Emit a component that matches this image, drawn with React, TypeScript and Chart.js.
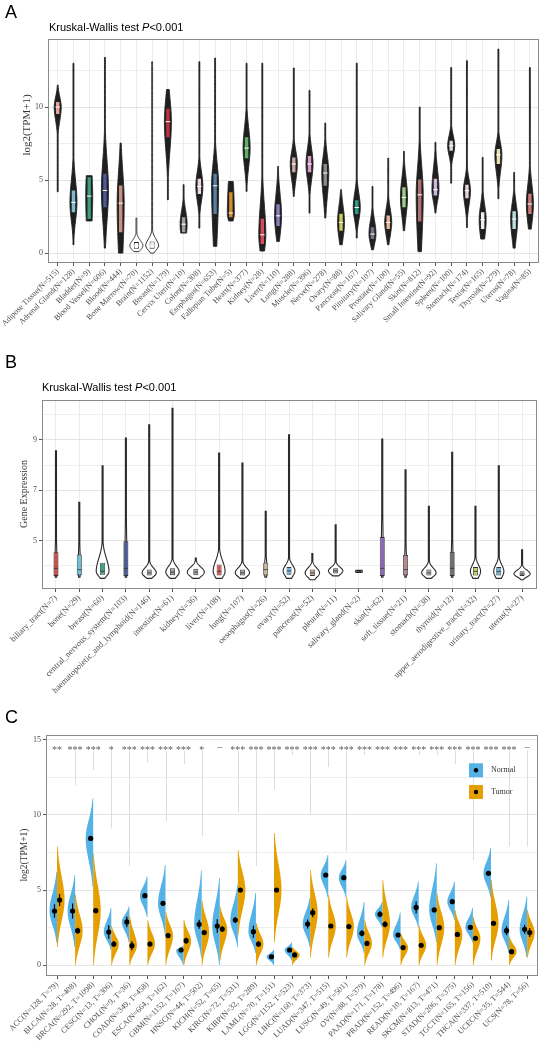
import React, { useEffect, useRef } from 'react';
import { Chart, registerables } from 'chart.js';
Chart.register(...registerables);
Chart.defaults.font.family = '"Liberation Serif", serif';

// ---------------- Panel A (GTEx tissues) ----------------
const aTissues = ['Adipose Tissue(N=515)', 'Adrenal Gland(N=128)', 'Bladder(N=9)', 'Blood Vessel(N=606)', 'Blood(N=444)', 'Bone Marrow(N=70)', 'Brain(N=1152)', 'Breast(N=179)', 'Cervix Uteri(N=10)', 'Colon(N=308)', 'Esophagus(N=653)', 'Fallopian Tube(N=5)', 'Heart(N=377)', 'Kidney(N=28)', 'Liver(N=110)', 'Lung(N=288)', 'Muscle(N=396)', 'Nerve(N=278)', 'Ovary(N=88)', 'Pancreas(N=167)', 'Pituitary(N=107)', 'Prostate(N=100)', 'Salivary Gland(N=55)', 'Skin(N=812)', 'Small Intestine(N=92)', 'Spleen(N=100)', 'Stomach(N=174)', 'Testis(N=165)', 'Thyroid(N=279)', 'Uterus(N=78)', 'Vagina(N=85)'];
const aMin = [4.2, 0.57, 2.2, 0.34, 0.0, 0.1, 0.0, 3.65, 1.37, 1.71, 0.46, 2.2, 4.22, 0.14, 0.8, 3.88, 2.74, 2.4, 0.57, 1.03, 0.23, 0.57, 1.53, 0.1, 2.74, 4.79, 1.75, 0.96, 3.72, 0.34, 1.64];
const aQ1 = [9.47, 2.74, 2.28, 3.08, 1.37, 0.3, 0.3, 7.88, 1.37, 3.99, 2.62, 2.4, 6.44, 0.57, 1.8, 5.48, 5.48, 4.56, 1.48, 2.62, 0.91, 1.59, 3.08, 2.1, 3.88, 6.96, 3.7, 1.59, 6.05, 1.59, 2.62];
const aMed = [10.0, 3.47, 3.9, 4.29, 3.42, 0.5, 0.5, 9.0, 1.98, 4.56, 4.61, 2.74, 7.19, 1.25, 2.55, 6.1, 6.1, 5.48, 2.1, 3.12, 1.3, 2.1, 3.81, 3.99, 4.34, 7.35, 4.27, 2.28, 6.73, 2.33, 3.36];
const aQ3 = [10.4, 4.34, 5.25, 5.48, 4.68, 0.75, 0.8, 9.93, 2.5, 5.14, 5.48, 4.22, 7.99, 2.4, 3.4, 6.6, 6.7, 6.16, 2.74, 3.68, 1.83, 2.62, 4.56, 5.09, 5.14, 7.75, 4.73, 2.85, 7.19, 2.92, 4.11];
const aMax = [11.5, 13.0, 5.3, 13.4, 7.53, 2.4, 13.1, 11.2, 4.68, 13.1, 13.35, 4.9, 13.0, 13.0, 5.93, 12.67, 11.14, 8.9, 4.34, 13.0, 4.56, 6.5, 6.96, 10.0, 7.58, 12.7, 13.17, 6.55, 13.97, 5.52, 12.7];
const aColors = ['#E8A09A', '#7FBCD2', '#3C9D7C', '#4A5A9A', '#C8917F', '#FFFFFF', '#EDEDED', '#C0303A', '#A0A0A0', '#EAD9D9', '#5A7FA5', '#D68E2A', '#5DAE6A', '#D34B5C', '#8C7DC0', '#C9A7A3', '#D79AC9', '#8A8A8A', '#C8CF5A', '#2A9D8F', '#6F7587', '#E8B898', '#9BCB8A', '#B07070', '#C9B8D9', '#D8D8D8', '#E5D5D5', '#EEEEEE', '#E8E0B0', '#BCE0E0', '#C87A7A'];
const aOpenViolin = [5, 6];

// ---------------- Panel B (cell lines) ----------------
const bTissues = ['biliary_tract(N=7)', 'bone(N=29)', 'breast(N=60)', 'central_nervous_system(N=103)', 'haematopoietic_and_lymphoid(N=146)', 'intestine(N=61)', 'kidney(N=36)', 'liver(N=108)', 'lung(N=107)', 'oesophagus(N=26)', 'ovary(N=52)', 'pancreas(N=52)', 'pleura(N=11)', 'salivary_gland(N=2)', 'skin(N=62)', 'soft_tissue(N=21)', 'stomach(N=38)', 'thyroid(N=12)', 'upper_aerodigestive_tract(N=32)', 'urinary_tract(N=27)', 'uterus(N=27)'];
const bMin = [3.55, 3.55, 3.5, 3.55, 3.5, 3.5, 3.5, 3.5, 3.5, 3.55, 3.5, 3.45, 3.6, 3.74, 3.55, 3.55, 3.5, 3.55, 3.5, 3.5, 3.45];
const bQ1 = [3.6, 3.62, 3.65, 3.6, 3.62, 3.63, 3.63, 3.62, 3.62, 3.62, 3.65, 3.6, 3.7, 3.76, 3.6, 3.62, 3.62, 3.6, 3.62, 3.62, 3.6];
const bMed = [3.9, 3.85, 3.78, 3.9, 3.72, 3.75, 3.75, 3.78, 3.72, 3.85, 3.8, 3.72, 3.8, 3.78, 3.9, 3.85, 3.72, 3.9, 3.78, 3.78, 3.68];
const bQ3 = [4.54, 4.45, 4.12, 4.97, 3.85, 3.9, 3.88, 4.05, 3.85, 4.12, 3.95, 3.85, 3.9, 3.8, 5.14, 4.43, 3.85, 4.55, 3.95, 3.95, 3.78];
const bMax = [8.56, 6.52, 7.97, 9.07, 9.6, 10.25, 4.31, 8.47, 8.08, 6.16, 9.2, 4.49, 5.63, 3.82, 9.03, 7.81, 6.36, 8.5, 6.36, 7.97, 4.64];
const bPeak = [0.12, 0.12, 0.75, 0.12, 0.85, 0.8, 1.0, 0.7, 0.85, 0.15, 0.7, 0.85, 0.85, 0.4, 0.12, 0.12, 0.85, 0.12, 0.6, 0.6, 0.95];
const bColors = ['#C8524A', '#6EC1D6', '#3AA58D', '#4A5D99', '#9E9E9E', '#9E9E9E', '#9E9E9E', '#D9534F', '#9E9E9E', '#C8B89A', '#6BAED6', '#C8A58A', '#9E9E9E', '#333333', '#8B6BB5', '#B58A8F', '#9E9E9E', '#707070', '#C8D26A', '#6BB5D6', '#9E9E9E'];

// ---------------- Panel C (TCGA normal vs tumor) ----------------
const cCancers = ['ACC(N=128, T=79)', 'BLCA(N=28, T=408)', 'BRCA(N=292, T=1098)', 'CESC(N=13, T=306)', 'CHOL(N=9, T=36)', 'COAD(N=349, T=458)', 'ESCA(N=664, T=162)', 'GBM(N=1152, T=167)', 'HNSC(N=44, T=502)', 'KICH(N=52, T=65)', 'KIRC(N=72, T=531)', 'KIRP(N=32, T=289)', 'LAML(N=70, T=151)', 'LGG(N=1152, T=523)', 'LIHC(N=160, T=373)', 'LUAD(N=347, T=515)', 'LUSC(N=49, T=501)', 'OV(N=88, T=379)', 'PAAD(N=171, T=178)', 'PRAD(N=152, T=496)', 'READ(N=10, T=167)', 'SKCM(N=813, T=471)', 'STAD(N=206, T=375)', 'TGCT(N=165, T=156)', 'THCA(N=337, T=510)', 'UCEC(N=35, T=544)', 'UCS(N=78, T=56)'];
const cNMed = [3.6, 3.6, 8.44, 2.2, 2.87, 4.62, 4.11, 1.0, 2.71, 2.6, 3.0, 2.22, 0.55, 1.0, 2.73, 6.0, 5.82, 2.11, 3.38, 2.0, 3.84, 3.67, 4.22, 2.51, 6.11, 2.29, 2.38];
const cTMed = [4.33, 2.29, 3.62, 1.4, 1.29, 1.4, 1.96, 1.62, 2.16, 2.4, 5.0, 1.4, 5.0, 0.67, 3.49, 2.6, 2.56, 1.44, 2.71, 1.16, 1.31, 2.49, 2.04, 1.78, 2.78, 0.89, 2.16];
const cNHi = [6.2, 6.0, 11.1, 3.8, 3.9, 5.9, 6.67, 1.3, 6.3, 5.8, 5.33, 4.8, 1.0, 1.5, 4.47, 7.33, 7.0, 4.22, 4.2, 3.5, 5.56, 6.78, 5.56, 3.8, 7.78, 4.33, 4.56];
const cTHi = [7.9, 4.7, 7.4, 2.6, 3.3, 3.0, 3.55, 3.0, 4.3, 3.9, 7.67, 2.8, 8.8, 1.2, 6.33, 4.67, 4.56, 3.0, 5.67, 2.1, 2.67, 4.78, 3.67, 3.2, 5.67, 1.9, 3.67];
const cNLo = [1.5, 1.2, 5.2, 1.0, 1.5, 3.2, 2.0, 0.0, 0.5, 0.0, 1.2, 0.8, 0.0, 0.3, 1.2, 4.5, 4.5, 0.8, 2.5, 1.0, 2.5, 1.5, 3.0, 1.5, 4.5, 0.8, 0.5];
const cTLo = [1.2, 0.0, 0.0, 0.0, 0.0, 0.0, 0.0, 0.0, 0.0, 0.3, 2.0, 0.0, 1.5, 0.0, 0.5, 0.5, 0.5, 0.0, 0.5, 0.0, 0.0, 0.0, 0.0, 0.0, 0.3, 0.0, 0.5];
const cNErr = [0.45, 0.5, 0.15, 0.45, 0.35, 0.1, 0.1, 0.1, 0.3, 0.45, 0.2, 0.4, 0.1, 0.1, 0.3, 0.1, 0.1, 0.2, 0.2, 0.1, 0.4, 0.1, 0.1, 0.1, 0.1, 0.3, 0.3];
const cTErr = [0.4, 0.2, 0.15, 0.2, 0.3, 0.15, 0.15, 0.2, 0.1, 0.2, 0.1, 0.2, 0.1, 0.1, 0.3, 0.1, 0.1, 0.1, 0.2, 0.1, 0.1, 0.1, 0.1, 0.1, 0.1, 0.1, 0.3];
const cTailTop = [NaN, 14.3, 14.3, 14.3, 14.3, 14.3, 14.3, 14.3, 14.3, NaN, 14.3, 14.3, 14.3, 14.3, 14.3, 14.3, 14.3, 14.3, NaN, NaN, 14.3, 14.3, 14.3, 14.3, NaN, 14.3, 14.3];
const cTailBot = [NaN, 12.0, 13.0, 9.1, 6.6, 13.5, 9.6, 13.4, 8.6, NaN, 10.2, 6.6, 11.7, 14.0, 10.0, 13.2, 7.6, 14.0, NaN, NaN, 14.0, 14.0, 13.4, 7.0, NaN, 7.9, 7.9];
const cSig = ['**', '***', '***', '*', '***', '***', '***', '***', '*', '-', '***', '***', '***', '***', '***', '***', '***', '***', '***', '***', '***', '***', '***', '***', '***', '***', '-'];
const cSeries = ['Normal', 'Tumor'];
const NORMAL = '#55B2E6';
const TUMOR = '#E69F00';

// ---------------- helpers ----------------
const SERIF = '"Liberation Serif", serif';
const SANS = '"Liberation Sans", Arial, sans-serif';

function violinPath(ctx: any, x: number, ys: any, lo: number, med: number, hi: number, sLo: number, sHi: number, halfW: number, tailMin: number, side: string) {
  const n = 80;
  const pts: number[][] = [];
  for (let k = 0; k <= n; k++) {
    const v = lo + (hi - lo) * k / n;
    const s = v < med ? sLo : sHi;
    const f = Math.exp(-0.5 * Math.pow((v - med) / s, 2));
    pts.push([ys.getPixelForValue(v), Math.max(f * halfW, tailMin)]);
  }
  ctx.beginPath();
  if (side === 'both') {
    pts.forEach(([y, w], k) => (k ? ctx.lineTo(x - w, y) : ctx.moveTo(x - w, y)));
    for (let k = pts.length - 1; k >= 0; k--) ctx.lineTo(x + pts[k][1], pts[k][0]);
  } else {
    const sg = side === 'left' ? -1 : 1;
    ctx.moveTo(x, pts[0][0]);
    pts.forEach(([y, w]) => ctx.lineTo(x + sg * w, y));
    ctx.lineTo(x, pts[n][0]);
  }
  ctx.closePath();
}

function yTicks(values: number[]) {
  return (s: any) => { s.ticks = values.map((v) => ({ value: v })); };
}

function frameAndText(opts: any) {
  return {
    id: 'frameText',
    afterDatasetsDraw(chart: any) {
      const { ctx, chartArea: a } = chart;
      ctx.save();
      ctx.strokeStyle = '#8a8a8a';
      ctx.lineWidth = 1;
      ctx.strokeRect(Math.round(a.left) + 0.5, Math.round(a.top) + 0.5, Math.round(a.right - a.left) - 1, Math.round(a.bottom - a.top) - 1);
      ctx.restore();
    },
    afterDraw(chart: any) {
      const { ctx } = chart;
      ctx.save();
      ctx.fillStyle = '#000';
      ctx.textBaseline = 'alphabetic';
      ctx.font = '18px ' + SANS;
      ctx.fillText(opts.letter, 5, opts.letterY);
      if (opts.titleX > 0) {
        ctx.font = '11px ' + SANS;
        let x = opts.titleX;
        const t1 = 'Kruskal-Wallis test ';
        ctx.fillText(t1, x, opts.titleY);
        x += ctx.measureText(t1).width;
        ctx.font = 'italic 11px ' + SANS;
        ctx.fillText('P', x, opts.titleY);
        x += ctx.measureText('P').width;
        ctx.font = '11px ' + SANS;
        ctx.fillText('<0.001', x, opts.titleY);
      }
      ctx.restore();
    },
  };
}

function yTitle(text: string, cx: number, cy: number, size: number) {
  return {
    id: 'yTitle',
    afterDraw(chart: any) {
      const { ctx } = chart;
      ctx.save();
      ctx.translate(cx, cy);
      ctx.rotate(-Math.PI / 2);
      ctx.fillStyle = '#333';
      ctx.font = size + 'px ' + SERIF;
      ctx.textAlign = 'center';
      ctx.textBaseline = 'middle';
      ctx.fillText(text, 0, 0);
      ctx.restore();
    },
  };
}

function xAxis(labels: string[], min: number, max: number, height: number, showGrid: boolean, fontSize: number) {
  return {
    type: 'linear', min, max, offset: false,
    afterBuildTicks: (s: any) => { s.ticks = labels.map((_, i) => ({ value: i })); },
    ticks: { autoSkip: false, minRotation: 45, maxRotation: 45, padding: 1, color: '#4d4d4d', font: { family: SERIF, size: fontSize }, callback: (v: any) => labels[v] },
    grid: { offset: false, color: showGrid ? '#ececec' : 'rgba(0,0,0,0)', drawOnChartArea: showGrid, tickColor: '#555', tickLength: 3, lineWidth: 1 },
    border: { display: false },
    afterFit: (s: any) => { s.height = height; },
  };
}

function yAxis(min: number, max: number, vals: number[], isMajor: (v: number) => boolean, width: number, showGrid: boolean) {
  return {
    type: 'linear', min, max,
    afterBuildTicks: yTicks(vals),
    ticks: { padding: 2, color: '#4d4d4d', font: { family: SERIF, size: 8 }, callback: (v: any) => (isMajor(v) ? String(v) : '') },
    grid: {
      color: (c: any) => (!showGrid ? 'rgba(0,0,0,0)' : (c.tick && isMajor(c.tick.value) ? '#e4e4e4' : '#efefef')),
      tickColor: (c: any) => (c.tick && isMajor(c.tick.value) ? '#555' : 'rgba(0,0,0,0)'),
      tickLength: 3, lineWidth: 1,
    },
    border: { display: false },
    afterFit: (s: any) => { s.width = width; },
  };
}

// ---------------- chart builders ----------------
function buildA() {
  const violins = {
    id: 'violinsA',
    beforeDatasetsDraw(chart: any) {
      const { ctx, chartArea: a, scales } = chart;
      ctx.save();
      ctx.beginPath(); ctx.rect(a.left, a.top, a.right - a.left, a.bottom - a.top); ctx.clip();
      aTissues.forEach((_, i) => {
        const x = scales.x.getPixelForValue(i);
        const sLo = Math.max((aMed[i] - aQ1[i]) / 0.674, 0.12);
        const sHi = Math.max((aQ3[i] - aMed[i]) / 0.674, 0.12);
        const open = aOpenViolin.includes(i);
        violinPath(ctx, x, scales.y, aMin[i], aMed[i], aMax[i], sLo * (open ? 1 : 1.15), sHi * (open ? 1 : 1.15), open ? 6.5 : 3.5, 0.45, 'both');
        ctx.fillStyle = open ? '#ffffff' : '#1f1f1f';
        ctx.fill();
        ctx.strokeStyle = '#1f1f1f';
        ctx.lineWidth = 0.9;
        ctx.stroke();
      });
      ctx.restore();
    },
  };
  return {
    type: 'bar',
    data: {
      datasets: [
        { type: 'scatter', order: 0, data: aMed.map((v, i) => ({ x: i, y: v })), pointStyle: 'line', pointRadius: 2.3, pointBorderColor: '#ffffff', pointBorderWidth: 1 },
        { type: 'bar', order: 1, data: aQ1.map((v, i) => ({ x: i, y: [v, aQ3[i]] })), backgroundColor: aColors, borderColor: '#222', borderWidth: 0.8, borderSkipped: false, grouped: false, maxBarThickness: 5 },
      ],
    },
    options: {
      responsive: false, animation: false, devicePixelRatio: 1,
      layout: { padding: { left: 0, top: 39, right: 5, bottom: 0 } },
      plugins: { legend: { display: false }, tooltip: { enabled: false } },
      scales: {
        x: xAxis(aTissues, -0.617, 30.58, 82, true, 8),
        y: yAxis(-0.68, 14.66, [0, 2.5, 5, 7.5, 10, 12.5], (v) => v % 5 === 0, 48, true),
      },
    },
    plugins: [violins, frameAndText({ letter: 'A', letterY: 18, titleX: 49, titleY: 31 }), yTitle('log2(TPM+1)', 27, 125, 11)],
  };
}

function buildB() {
  const violins = {
    id: 'violinsB',
    beforeDatasetsDraw(chart: any) {
      const { ctx, chartArea: a, scales } = chart;
      ctx.save();
      ctx.beginPath(); ctx.rect(a.left, a.top, a.right - a.left, a.bottom - a.top); ctx.clip();
      bTissues.forEach((_, i) => {
        const x = scales.x.getPixelForValue(i);
        const sLo = Math.max((bMed[i] - bQ1[i]) / 0.674, 0.08);
        const sHi = Math.max((bQ3[i] - bMed[i]) / 0.674, 0.08);
        violinPath(ctx, x, scales.y, bMin[i], bMed[i], bMax[i], sLo, sHi, 8.5 * bPeak[i], 0.5, 'both');
        ctx.fillStyle = '#ffffff';
        ctx.fill();
        ctx.strokeStyle = '#2a2a2a';
        ctx.lineWidth = 1.1;
        ctx.stroke();
      });
      ctx.restore();
    },
  };
  return {
    type: 'bar',
    data: {
      datasets: [
        { type: 'scatter', order: 0, data: bMed.map((v, i) => ({ x: i, y: v })), pointStyle: 'line', pointRadius: 2.2, pointBorderColor: '#333', pointBorderWidth: 0.8 },
        { type: 'bar', order: 1, data: bQ1.map((v, i) => ({ x: i, y: [v, bQ3[i]] })), backgroundColor: bColors, borderColor: '#333', borderWidth: 0.8, borderSkipped: false, grouped: false, maxBarThickness: 5 },
      ],
    },
    options: {
      responsive: false, animation: false, devicePixelRatio: 1,
      layout: { padding: { left: 0, top: 55, right: 7, bottom: 0 } },
      plugins: { legend: { display: false }, tooltip: { enabled: false } },
      scales: {
        x: xAxis(bTissues, -0.6, 20.64, 121, true, 8.5),
        y: yAxis(3.08, 10.58, [4, 5, 6, 7, 8, 9, 10], (v) => v % 2 === 1, 42, true),
      },
    },
    plugins: [violins, frameAndText({ letter: 'B', letterY: 23, titleX: 42, titleY: 46 }), yTitle('Gene Expression', 24, 149, 10)],
  };
}

function buildC() {
  const violins = {
    id: 'violinsC',
    beforeDatasetsDraw(chart: any) {
      const { ctx, chartArea: a, scales } = chart;
      ctx.save();
      ctx.beginPath(); ctx.rect(a.left, a.top, a.right - a.left, a.bottom - a.top); ctx.clip();
      cCancers.forEach((_, i) => {
        const x = scales.x.getPixelForValue(i);
        if (!isNaN(cTailTop[i])) {
          ctx.strokeStyle = '#dcdcdc';
          ctx.lineWidth = 1;
          ctx.beginPath();
          ctx.moveTo(Math.round(x) + 0.5, scales.y.getPixelForValue(cTailTop[i]));
          ctx.lineTo(Math.round(x) + 0.5, scales.y.getPixelForValue(cTailBot[i]));
          ctx.stroke();
        }
        violinPath(ctx, x, scales.y, cNLo[i], cNMed[i], cNHi[i], Math.max((cNMed[i] - cNLo[i]) / 2.2, 0.1), Math.max((cNHi[i] - cNMed[i]) / 2.2, 0.1), 7.5, 0, 'left');
        ctx.fillStyle = NORMAL; ctx.fill();
        violinPath(ctx, x, scales.y, cTLo[i], cTMed[i], cTHi[i], Math.max((cTMed[i] - cTLo[i]) / 2.2, 0.1), Math.max((cTHi[i] - cTMed[i]) / 2.2, 0.1), 7.5, 0, 'right');
        ctx.fillStyle = TUMOR; ctx.fill();
      });
      ctx.restore();
    },
    afterDatasetsDraw(chart: any) {
      const { ctx, scales, chartArea: a } = chart;
      ctx.save();
      ctx.fillStyle = '#5a5a5a';
      ctx.font = '10px ' + SERIF;
      ctx.textAlign = 'center';
      ctx.textBaseline = 'middle';
      const y = scales.y.getPixelForValue(14.45);
      cSig.forEach((s, i) => {
        const x = scales.x.getPixelForValue(i);
        if (s === '-') ctx.fillText('\u2013', x, y - 1);
        else ctx.fillText(s, x, y + 2);
      });
      const lx = a.right - 69;
      const items = [[cSeries[0], NORMAL, 53.3], [cSeries[1], TUMOR, 75]];
      items.forEach(([label, col, ty]: any) => {
        ctx.fillStyle = col;
        ctx.fillRect(lx, ty, 14, 14);
        ctx.fillStyle = '#000';
        ctx.beginPath(); ctx.arc(lx + 7, ty + 7, 2.2, 0, Math.PI * 2); ctx.fill();
        ctx.fillStyle = '#333';
        ctx.font = '8px ' + SERIF;
        ctx.textAlign = 'left';
        ctx.fillText(label, lx + 22, ty + 7);
      });
      ctx.restore();
    },
  };
  const off = 0.14;
  return {
    type: 'bar',
    data: {
      datasets: [
        { type: 'scatter', order: 0, label: cSeries[0], data: cNMed.map((v, i) => ({ x: i - off, y: v })), pointRadius: 2.6, pointBackgroundColor: '#000', pointBorderWidth: 0 },
        { type: 'scatter', order: 0, label: cSeries[1], data: cTMed.map((v, i) => ({ x: i + off, y: v })), pointRadius: 2.6, pointBackgroundColor: '#000', pointBorderWidth: 0 },
        { type: 'bar', order: 1, data: cNMed.map((v, i) => ({ x: i - off, y: [v - cNErr[i], v + cNErr[i]] })), backgroundColor: '#000', grouped: false, maxBarThickness: 1.2 },
        { type: 'bar', order: 1, data: cTMed.map((v, i) => ({ x: i + off, y: [v - cTErr[i], v + cTErr[i]] })), backgroundColor: '#000', grouped: false, maxBarThickness: 1.2 },
      ],
    },
    options: {
      responsive: false, animation: false, devicePixelRatio: 1,
      layout: { padding: { left: 0, top: 25, right: 6, bottom: 0 } },
      plugins: { legend: { display: false }, tooltip: { enabled: false } },
      scales: {
        x: xAxis(cCancers, -0.61, 26.6, 65, false, 8),
        y: yAxis(-0.733, 15.333, [0, 2.5, 5, 7.5, 10, 12.5, 15], (v) => v % 5 === 0, 46, true),
      },
    },
    plugins: [violins, frameAndText({ letter: 'C', letterY: 13, titleX: -999, titleY: -999 }), yTitle('log2(TPM+1)', 24, 145, 9.5)],
  };
}

function Panel({ top, height, build }: any) {
  const ref = useRef<HTMLCanvasElement>(null);
  useEffect(() => {
    const chart = new Chart(ref.current as any, build());
    return () => chart.destroy();
  }, []);
  return <canvas ref={ref} width={544} height={height} style={{ position: 'absolute', left: 0, top, width: 544, height, display: 'block' }} />;
}

export default function App() {
  return (
    <div style={{ position: 'absolute', left: 0, top: 0, width: 544, height: 1041, background: '#fff', overflow: 'hidden' }}>
      <Panel top={0} height={345} build={buildA} />
      <Panel top={345} height={365} build={buildB} />
      <Panel top={710} height={331} build={buildC} />
    </div>
  );
}
